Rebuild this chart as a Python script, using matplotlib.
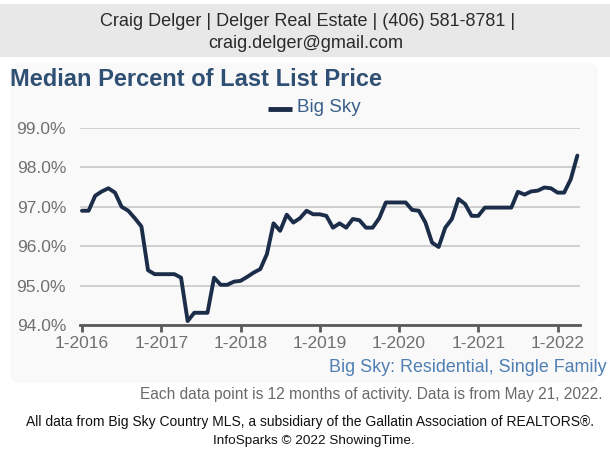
import matplotlib
matplotlib.use("Agg")
import matplotlib.pyplot as plt
import matplotlib.patches as mpatches
import numpy as np

plt.rcParams['font.family'] = ['Liberation Sans', 'DejaVu Sans']

# monthly values, 1-2016 through 4-2022
pct_2016 = [96.9, 96.9, 97.28, 97.39, 97.47, 97.36, 97.0, 96.9, 96.71, 96.5, 95.39, 95.29]
pct_2017 = [95.29, 95.29, 95.29, 95.2, 94.1, 94.31, 94.31, 94.31, 95.2, 95.02, 95.02, 95.1]
pct_2018 = [95.12, 95.22, 95.33, 95.42, 95.8, 96.58, 96.39, 96.8, 96.6, 96.71, 96.9, 96.81]
pct_2019 = [96.81, 96.77, 96.47, 96.58, 96.47, 96.69, 96.66, 96.47, 96.47, 96.71, 97.11, 97.11]
pct_2020 = [97.11, 97.11, 96.92, 96.9, 96.6, 96.09, 95.98, 96.47, 96.69, 97.2, 97.07, 96.77]
pct_2021 = [96.77, 96.98, 96.98, 96.98, 96.98, 96.98, 97.38, 97.31, 97.39, 97.41, 97.49, 97.47]
pct_2022 = [97.36, 97.36, 97.7, 98.3]
values = pct_2016 + pct_2017 + pct_2018 + pct_2019 + pct_2020 + pct_2021 + pct_2022

year_labels = ['1-2016', '1-2017', '1-2018', '1-2019', '1-2020', '1-2021', '1-2022']
y_ticks = [94.0, 95.0, 96.0, 97.0, 98.0, 99.0]

W, H = 610, 449
fig = plt.figure(figsize=(W / 100, H / 100), dpi=100)
fig.patch.set_facecolor('white')

# header band and the faint chart panel behind the plot
fig.patches.append(mpatches.Rectangle((0, 1 - 57 / H), 1, 53 / H, transform=fig.transFigure,
                                      facecolor='#e8e8e8', edgecolor='none', zorder=-2))
fig.patches.append(mpatches.FancyBboxPatch((10 / W, 1 - 383 / H), 588 / W, 320 / H,
                                           boxstyle='round,pad=0,rounding_size=0.02',
                                           transform=fig.transFigure,
                                           facecolor='#f9f9f9', edgecolor='none', zorder=-2))

fig.text(308 / W, 1 - 21 / H, 'Craig Delger | Delger Real Estate | (406) 581-8781 |',
         ha='center', va='center', fontsize=13, color='#2a2a2a')
fig.text(306 / W, 1 - 43 / H, 'craig.delger@gmail.com',
         ha='center', va='center', fontsize=13, color='#2a2a2a')
fig.text(10 / W, 1 - 80 / H, 'Median Percent of Last List Price',
         ha='left', va='center', fontsize=17, fontweight='bold', color='#2f4f73')

ax = fig.add_axes([80 / W, 1 - 325 / H, 500 / W, 197 / H])
ax.set_facecolor('none')
x = np.arange(len(values))
ax.plot(x, values, color='#1c2d4a', linewidth=2.8, solid_joinstyle='round',
        solid_capstyle='round', clip_on=False, zorder=3)

ax.set_xlim(-0.3, 75.4)
ax.set_ylim(94, 99)
ax.set_yticks(y_ticks)
ax.set_yticklabels(['{:.1f}%'.format(v) for v in y_ticks])
ax.set_xticks(np.arange(0, 73, 12))
ax.set_xticklabels(year_labels)
ax.grid(axis='y', color='#c8c8c8', linewidth=1.2)
ax.set_axisbelow(True)
for side in ['top', 'right', 'left']:
    ax.spines[side].set_visible(False)
ax.spines['bottom'].set_color('#5a5a5a')
ax.spines['bottom'].set_linewidth(2)
ax.spines['bottom'].set_zorder(4)
ax.tick_params(axis='y', length=0, pad=10, labelsize=12.5, labelcolor='#707070')
ax.tick_params(axis='x', direction='out', length=5, width=2, color='#5a5a5a',
               pad=3, labelsize=12.5, labelcolor='#707070')

# legend
fig.lines.append(plt.Line2D([268 / W, 292 / W], [1 - 109 / H, 1 - 109 / H], transform=fig.transFigure,
                            color='#1c2d4a', linewidth=3.5, solid_capstyle='butt'))
fig.text(297 / W, 1 - 108 / H, 'Big Sky', ha='left', va='center', fontsize=13.5, color='#3a5f8a')

fig.text(607 / W, 1 - 368 / H, 'Big Sky: Residential, Single Family',
         ha='right', va='center', fontsize=12.9, color='#4f7fb3')
fig.text(603 / W, 1 - 395 / H, 'Each data point is 12 months of activity. Data is from May 21, 2022.',
         ha='right', va='center', fontsize=11.2, color='#6a6a6a')
fig.text(310 / W, 1 - 422 / H,
         'All data from Big Sky Country MLS, a subsidiary of the Gallatin Association of REALTORS\u00ae.',
         ha='center', va='center', fontsize=10, color='#111111')
fig.text(314 / W, 1 - 441 / H, 'InfoSparks \u00a9 2022 ShowingTime.',
         ha='center', va='center', fontsize=9.7, color='#111111')

fig.savefig('out.png', dpi=100)
